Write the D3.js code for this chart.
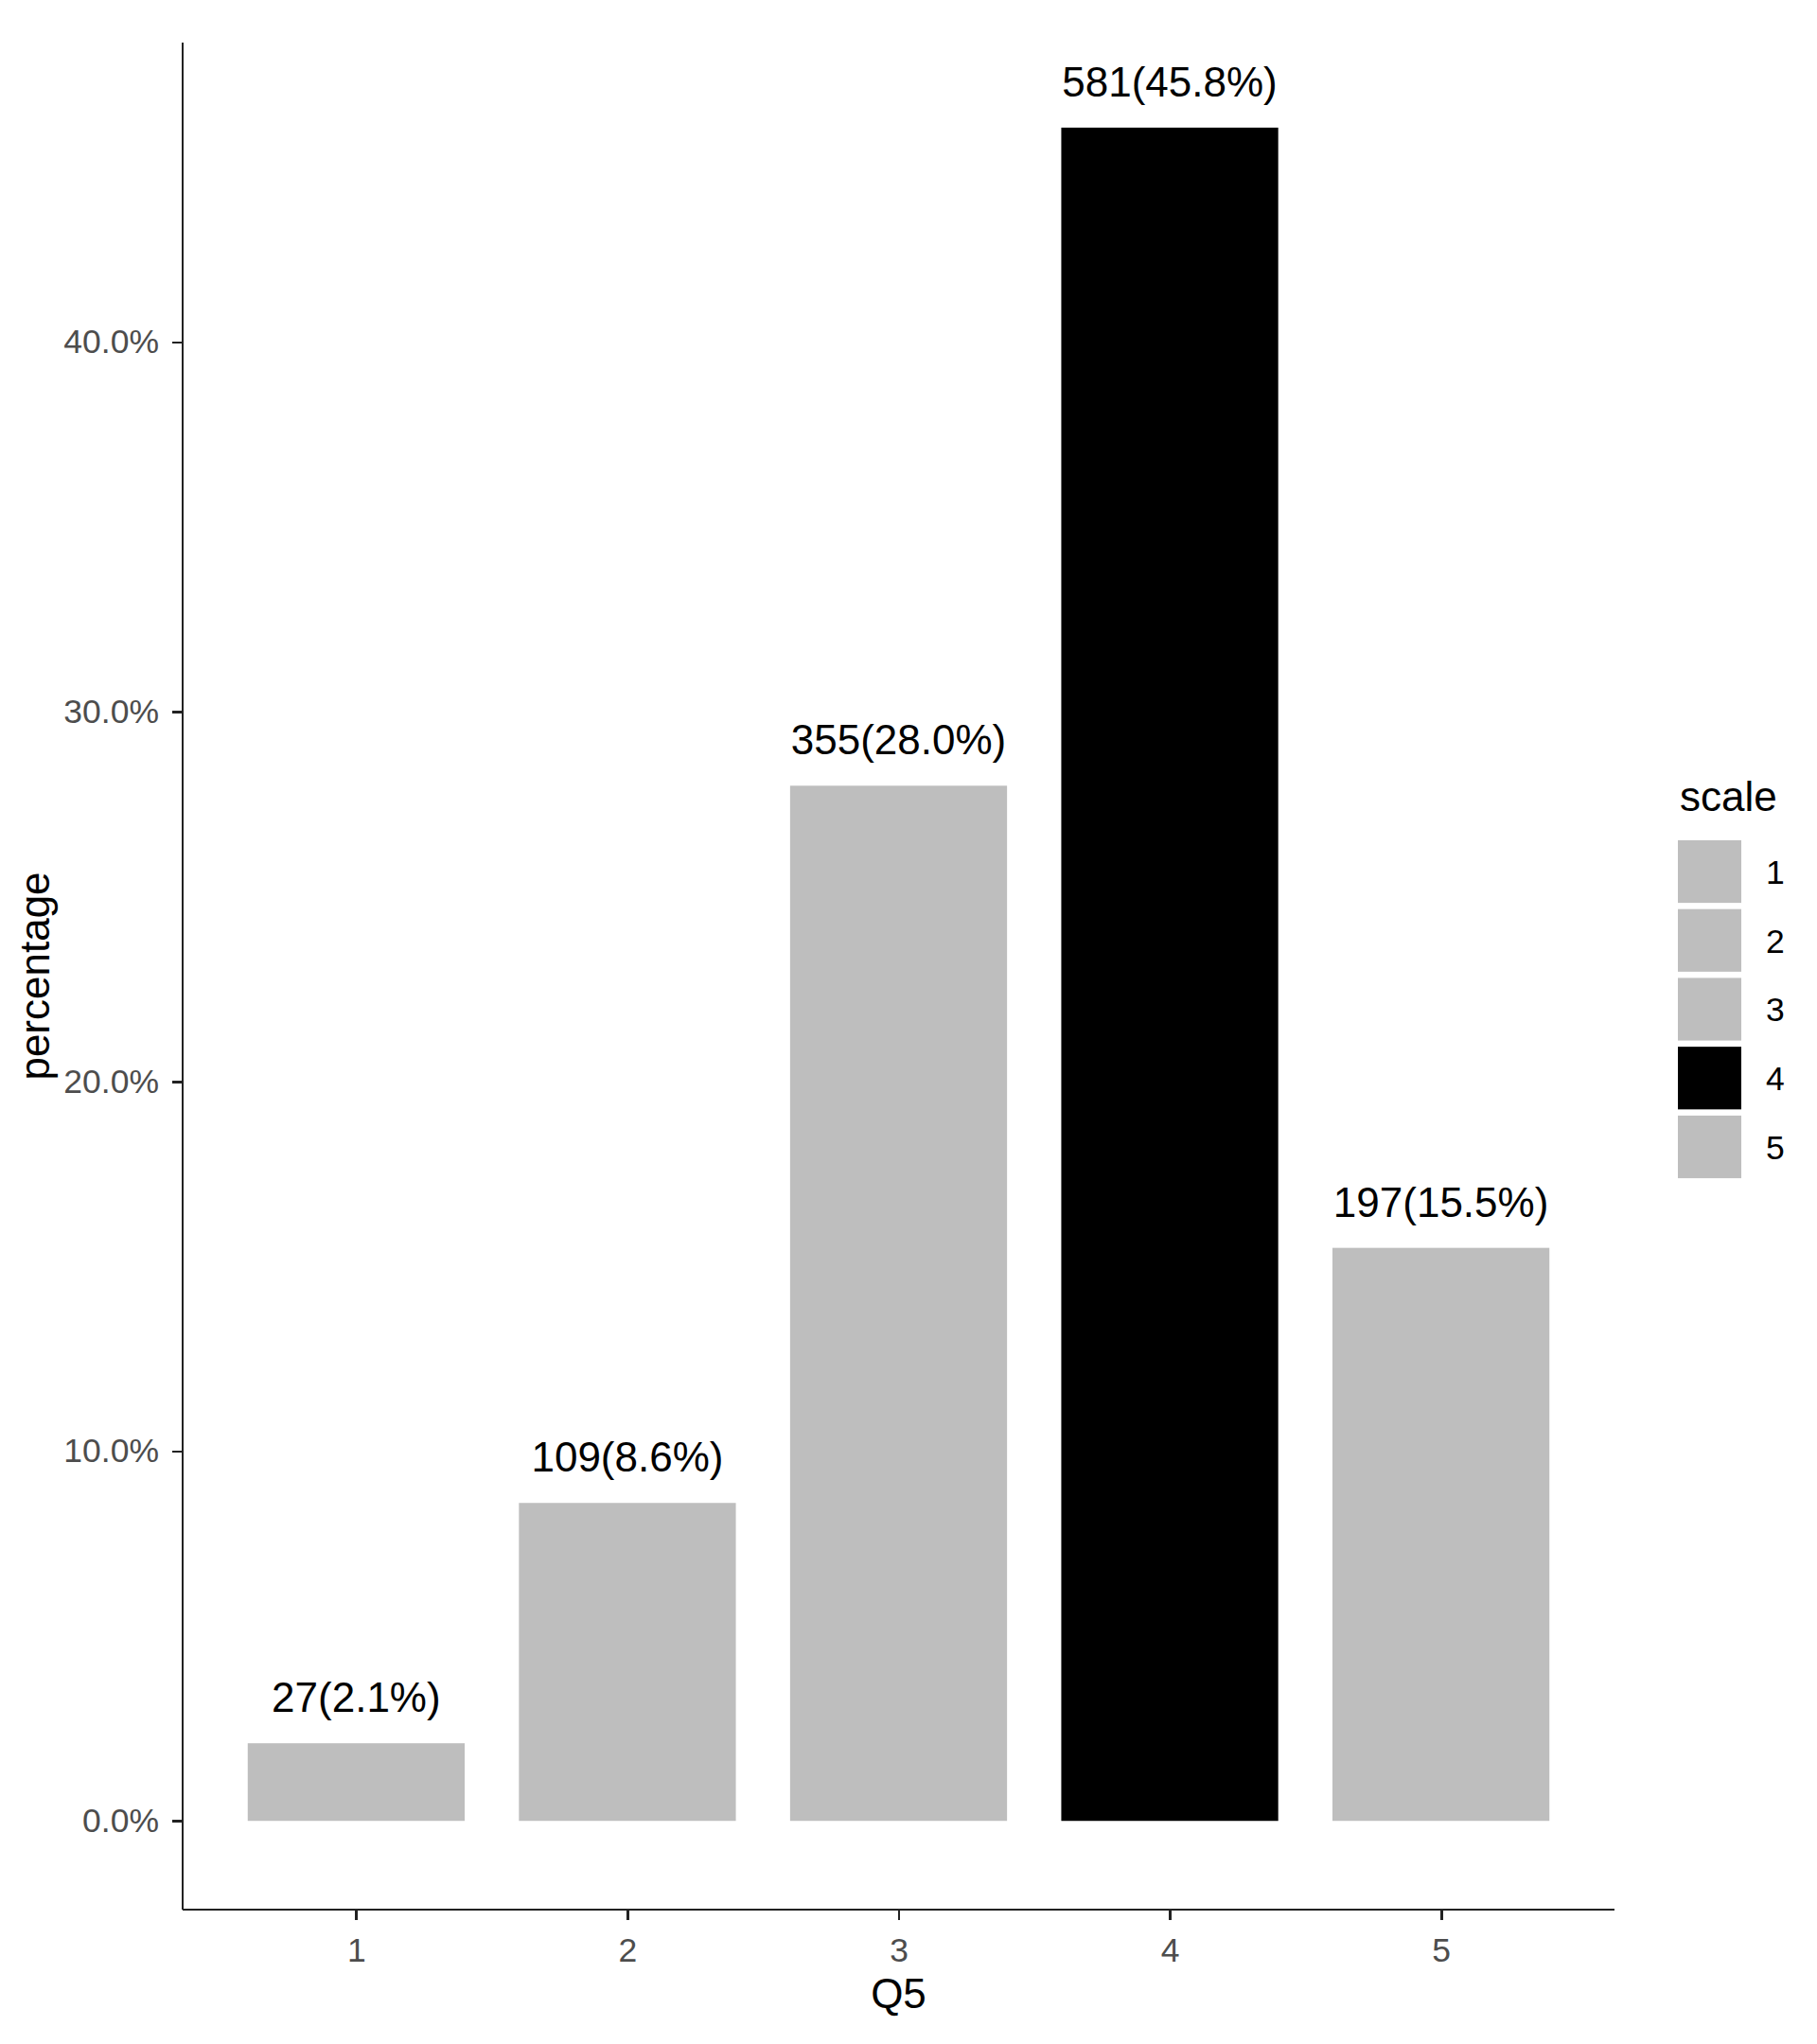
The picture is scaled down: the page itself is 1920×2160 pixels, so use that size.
<!DOCTYPE html>
<html>
<head>
<meta charset="utf-8">
<style>
  body { margin: 0; background: #fff; }
  svg { font-family: Arial, "Liberation Sans", sans-serif; }
  .axis path, .axis line { stroke: #222; stroke-width: 2.8; shape-rendering: crispEdges; }
  .axis text { fill: #4d4d4d; font-size: 35.5px; }
</style>
</head>
<body>
<script src="https://d3js.org/d3.v7.min.js"></script>
<script>
// data
const categories = ["1", "2", "3", "4", "5"]
const counts = [27, 109, 355, 581, 197]
const percents = [2.1, 8.6, 28.0, 45.8, 15.5]
const fills = ["#bebebe", "#bebebe", "#bebebe", "#000000", "#bebebe"]
const yTicks = [0, 10, 20, 30, 40]

const W = 1920, H = 2160
const plot = {left: 193, right: 1706, top: 45, bottom: 2018}

const svg = d3.select("body").append("svg")
    .attr("width", W)
    .attr("height", H)

let xScale = d3.scaleLinear().domain([0.36, 5.64]).range([plot.left, plot.right]),
    yScale = d3.scaleLinear().domain([-2.4, 48.1]).range([plot.bottom, plot.top])

const barW = 0.8 * (xScale(2) - xScale(1))

// bars
svg.append("g")
    .selectAll("rect")
    .data(categories)
    .join("rect")
    .attr("x", (d, i) => xScale(i + 1) - barW / 2)
    .attr("y", (d, i) => yScale(percents[i]))
    .attr("width", barW)
    .attr("height", (d, i) => yScale(0) - yScale(percents[i]))
    .attr("fill", (d, i) => fills[i])

// labels above the bars
svg.append("g")
    .selectAll("text")
    .data(categories)
    .join("text")
    .attr("x", (d, i) => xScale(i + 1))
    .attr("y", (d, i) => yScale(percents[i]) - 33)
    .attr("text-anchor", "middle")
    .attr("font-size", 44)
    .attr("fill", "#000")
    .text((d, i) => `${counts[i]}(${percents[i].toFixed(1)}%)`)

// axes
const xAxis = d3.axisBottom(xScale)
    .tickValues(categories.map((d, i) => i + 1))
    .tickFormat((d, i) => categories[i])
    .tickSize(11).tickSizeOuter(0).tickPadding(19)
const yAxis = d3.axisLeft(yScale)
    .tickValues(yTicks)
    .tickFormat(d => d.toFixed(1) + "%")
    .tickSize(11).tickSizeOuter(0).tickPadding(14)

svg.append("g")
    .attr("class", "axis")
    .attr("transform", `translate(0,${plot.bottom})`)
    .call(xAxis)
    .call(g => g.select(".domain").attr("d", `M${plot.left},0H${plot.right}`))

svg.append("g")
    .attr("class", "axis")
    .attr("transform", `translate(${plot.left},0)`)
    .call(yAxis)
    .call(g => g.select(".domain").attr("d", `M0,${plot.top}V${plot.bottom}`))

// axis titles
svg.append("text")
    .attr("x", (plot.left + plot.right) / 2)
    .attr("y", 2122)
    .attr("text-anchor", "middle")
    .attr("font-size", 44)
    .text("Q5")

svg.append("text")
    .attr("transform", `translate(52,${(plot.top + plot.bottom) / 2}) rotate(-90)`)
    .attr("text-anchor", "middle")
    .attr("font-size", 44)
    .text("percentage")

// legend
const legend = svg.append("g").attr("transform", "translate(1773,0)")
legend.append("text")
    .attr("x", 2)
    .attr("y", 857)
    .attr("font-size", 44)
    .text("scale")

const keyY = d3.scaleBand().domain(categories).range([885, 1248]).paddingInner(0.09).paddingOuter(0.04)

legend.selectAll("rect")
    .data(categories)
    .join("rect")
    .attr("x", 0)
    .attr("y", d => keyY(d))
    .attr("width", 67)
    .attr("height", keyY.bandwidth())
    .attr("fill", (d, i) => fills[i])

legend.selectAll("text.key")
    .data(categories)
    .join("text")
    .attr("class", "key")
    .attr("x", 93)
    .attr("y", d => keyY(d) + keyY.bandwidth() / 2)
    .attr("dy", "0.36em")
    .attr("font-size", 35.5)
    .attr("fill", "#000")
    .text(d => d)
</script>
</body>
</html>
